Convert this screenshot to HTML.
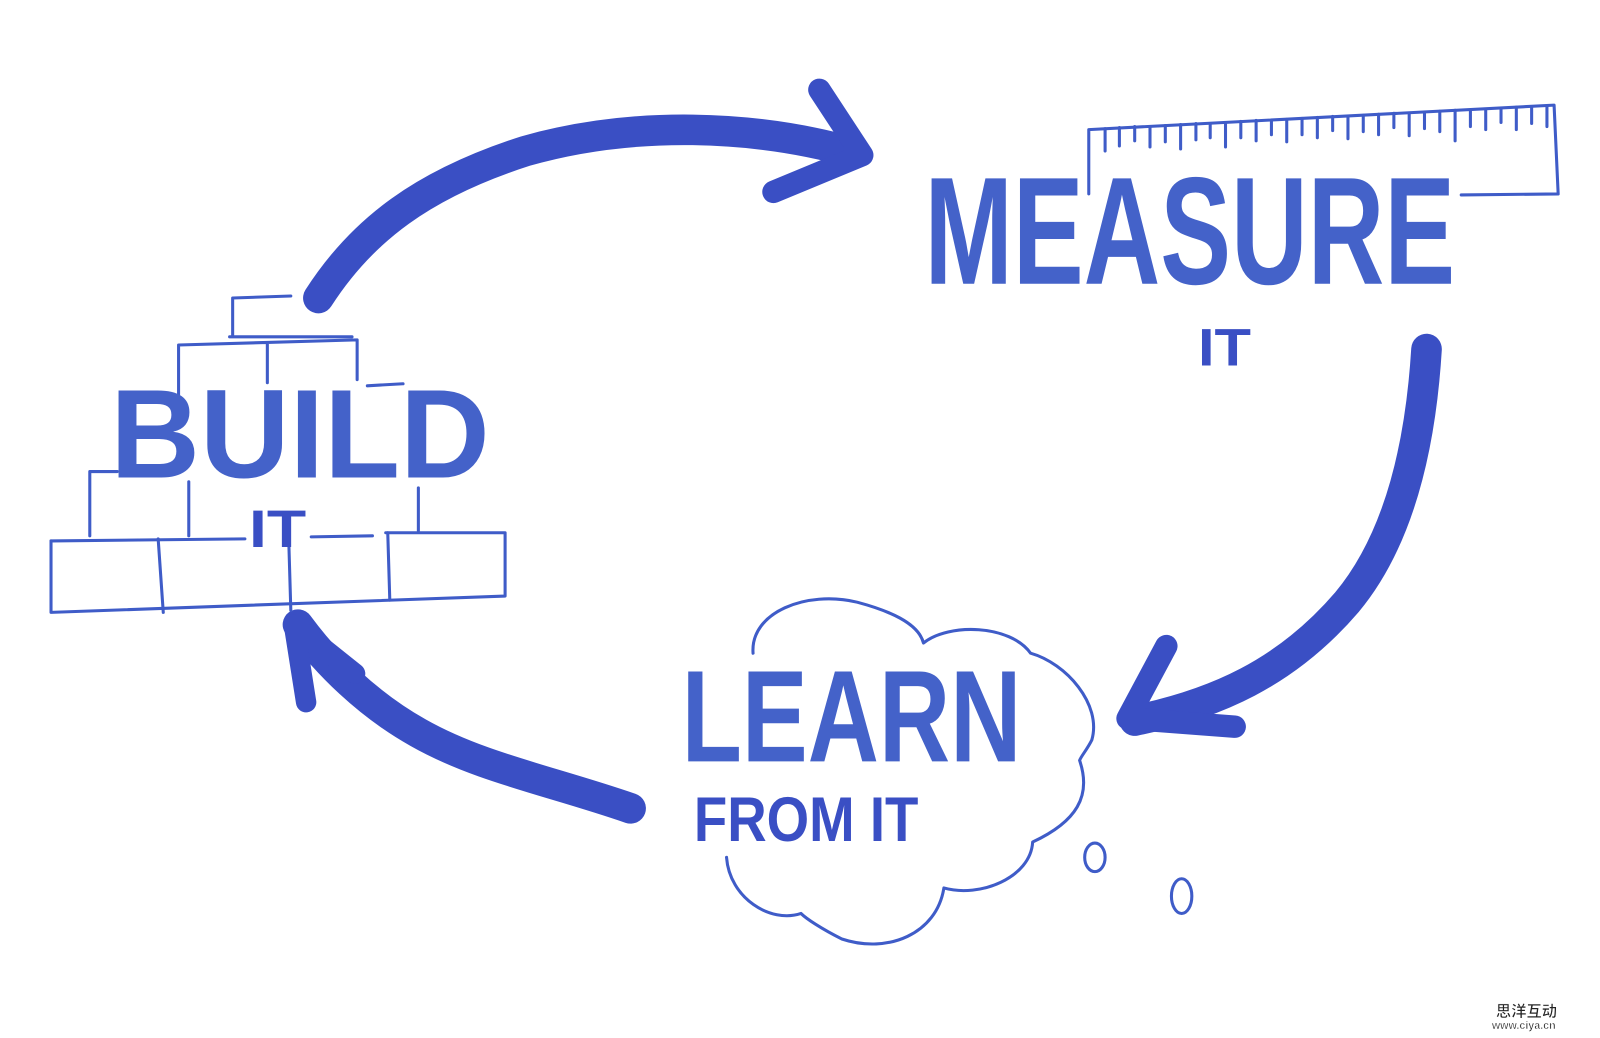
<!DOCTYPE html>
<html><head><meta charset="utf-8"><style>
html,body{margin:0;padding:0;background:#fff;width:1600px;height:1038px;overflow:hidden}
svg{display:block}
</style></head><body>
<svg width="1600" height="1038" viewBox="0 0 1568 1017" preserveAspectRatio="none" xmlns="http://www.w3.org/2000/svg">
<g fill="none" stroke="#3a4fc4" stroke-linecap="round" stroke-linejoin="round">
 <!-- top arrow -->
 <path d="M312 292 C355 225 415 180 515 148 C620 118 740 122 838 150" stroke-width="30"/>
 <path d="M803 88 L845 152 L758 188" stroke-width="22"/>
 <!-- right arrow -->
 <path d="M1398 342 C1392 440 1370 530 1320 590 C1260 660 1190 690 1112 706" stroke-width="30"/>
 <path d="M1143 633 L1105 704 L1210 712" stroke-width="22"/>
 <!-- bottom-left arrow -->
 <path d="M618 792 C540 765 470 752 410 718 C360 690 320 650 292 612" stroke-width="30"/>
 <path d="M300 688 L288 612 L348 660" stroke-width="20"/>
</g>
<g fill="none" stroke="#3f5cc8" stroke-width="3" stroke-linecap="round" stroke-linejoin="round">
 <path d="M1067 190 L1067 127 L1523 103 L1527 190 L1432 191"/>
 <path d="M1083 126v22M1097 125v18M1112 124v14M1127 124v20M1142 123v16M1157 122v24M1172 121v16M1186 121v14M1201 120v24M1216 119v16M1231 118v20M1246 118v14M1261 117v22M1276 116v16M1291 115v20M1306 114v14M1321 114v22M1336 113v16M1351 112v20M1366 111v14M1381 111v22M1396 110v16M1411 109v20M1426 108v30M1441 108v16M1456 107v20M1471 106v14M1486 105v22M1501 105v16M1516 104v20"/>
 <path d="M50 530 L50 600 L495 584 L495 522 L378 522"/>
 <path d="M50 530 L240 528 M305 526 L365 525"/>
 <path d="M155 528 L160 600 M283 530 L285 598 M380 522 L382 588"/>
 <path d="M88 525 L88 462 L115 462 M185 472 L185 525 M410 478 L410 520"/>
 <path d="M175 395 L175 338 L350 333 L350 372 M262 336 L262 375"/>
 <path d="M228 330 L228 292 L285 290 M225 330 L345 330"/>
 <path d="M360 378 L395 376"/>
 <path d="M738 640 C735 600 790 578 840 590 C870 598 900 610 905 630 C930 610 990 612 1010 640 C1045 650 1080 690 1070 725 C1065 735 1060 740 1058 745 C1070 780 1055 805 1012 825 C1010 860 960 880 925 870 C918 915 870 935 825 920 C805 910 790 900 785 895 C755 905 715 880 712 840"/>
 <ellipse cx="1073" cy="840" rx="10" ry="14"/>
 <ellipse cx="1158" cy="878" rx="10" ry="17"/>
</g>
<g font-family="Liberation Sans Narrow, Liberation Sans, sans-serif" font-weight="bold" fill="#4462c9">
 <text x="906" y="278" font-size="150" textLength="520" lengthAdjust="spacingAndGlyphs">MEASURE</text>
 <text x="1174" y="358" font-size="52" textLength="52" lengthAdjust="spacingAndGlyphs" fill="#3a4fc4">IT</text>
 <text x="108" y="468" font-size="124" textLength="372" lengthAdjust="spacingAndGlyphs">BUILD</text>
 <text x="244" y="536" font-size="52" textLength="56" lengthAdjust="spacingAndGlyphs" fill="#3a4fc4">IT</text>
 <text x="668" y="746" font-size="128" textLength="333" lengthAdjust="spacingAndGlyphs">LEARN</text>
 <text x="680" y="824" font-size="62" textLength="220" lengthAdjust="spacingAndGlyphs" fill="#3a4fc4">FROM IT</text>
</g>
<g font-family="Liberation Sans, Noto Sans CJK SC, sans-serif" font-weight="bold" fill="#222" stroke="#fff" stroke-width="0.5">
 <text x="1466" y="996" font-size="15">思洋互动</text>
 <text x="1462" y="1008" font-size="10.5">www.ciya.cn</text>
</g>
</svg>
</body></html>
